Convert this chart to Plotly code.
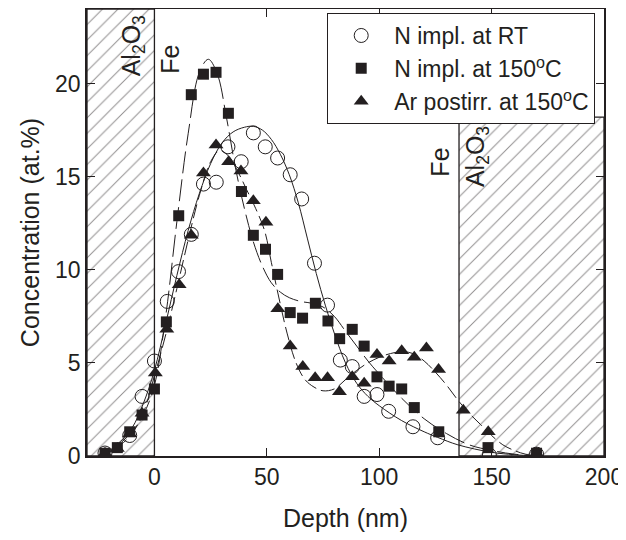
import plotly.graph_objects as go

# ---- measured data points ----
rt_x = [-22, -11, -5.5, 0, 5.7, 10.7, 16.4, 21.8, 27.5, 32.7, 38.6, 44, 49.3, 54.8, 60.4, 65.5, 71.2, 77, 82.7, 88, 93.3, 99, 104.2, 115, 126, 149, 170]
rt_y = [0.16, 1.1, 3.2, 5.1, 8.3, 9.9, 11.9, 14.6, 14.7, 16.6, 15.8, 17.35, 16.6, 16.0, 15.1, 13.8, 10.35, 8.1, 5.15, 4.8, 3.2, 3.3, 2.4, 1.57, 0.98, 0.05, 0.1]

hot_x = [-22, -16.5, -11, -5.5, 0, 5.3, 10.8, 16.4, 21.8, 27.4, 32.9, 38.7, 44, 49.4, 54.8, 60.4, 65.9, 71.6, 77.2, 82.4, 88, 93.3, 99, 104.4, 110, 115.6, 126.5, 148.4, 170]
hot_y = [0.15, 0.45, 1.3, 2.2, 3.6, 7.2, 12.9, 19.4, 20.5, 20.6, 18.4, 14.2, 11.85, 11.1, 9.75, 7.7, 7.4, 8.2, 7.25, 6.3, 6.8, 5.9, 4.25, 3.75, 3.6, 2.6, 1.3, 0.45, 0.15]

ar_x = [-22, -16.5, -11, -5.5, 0.4, 5.5, 11, 16.4, 21.8, 27.4, 33, 38.5, 44, 49.6, 54.9, 60.4, 66, 71.5, 77, 82.3, 88, 93.3, 99, 104.4, 110, 115.6, 121, 126.4, 137.4, 148.5, 170]
ar_y = [0.15, 0.4, 1.2, 2.3, 4.45, 6.8, 9.2, 11.85, 15.2, 16.7, 15.8, 15.3, 13.7, 12.55, 7.9, 5.9, 4.8, 4.2, 4.2, 3.45, 4.25, 3.9, 5.45, 5.1, 5.65, 5.3, 5.8, 4.65, 2.45, 1.3, 0.15]

# ---- fitted curves ----
rt_fit_x = [-25, -20, -15, -10, -5, 0, 5, 10, 15, 20, 25, 30, 35, 40, 44, 48, 52, 56, 60, 64, 68, 72, 76, 80, 85, 90, 95, 100, 110, 120, 126, 135, 150, 160, 170]
rt_fit_y = [0, 0.3, 0.8, 1.5, 2.8, 4.6, 7.1, 9.7, 12.1, 14.1, 15.7, 16.8, 17.4, 17.65, 17.7, 17.5, 17.0, 16.2, 15.1, 13.6, 11.7, 9.8, 8.1, 6.6, 5.0, 3.9, 3.2, 2.7, 1.9, 1.3, 1.0, 0.6, 0.2, 0.07, 0.0]

hot_fit_x = [-25, -20, -15, -10, -5, 0, 5, 10, 15, 20, 24, 28, 32, 36, 40, 44, 48, 52, 56, 60, 65, 70, 75, 80, 85, 90, 95, 100, 110, 120, 130, 140, 150, 160, 170]
hot_fit_y = [0, 0.25, 0.7, 1.3, 2.2, 3.8, 7.5, 12.6, 17.3, 20.6, 21.3, 20.5, 18.2, 15.5, 13.3, 11.5, 10.2, 9.3, 8.8, 8.5, 8.3, 8.2, 8.0, 7.5, 6.7, 5.9, 5.1, 4.4, 3.1, 2.0, 1.2, 0.6, 0.3, 0.1, 0.02]

ar_fit_x = [-25, -20, -15, -10, -5, 0, 5, 10, 15, 20, 25, 29, 33, 37, 41, 45, 49, 52, 55, 59, 63, 67, 71, 75, 80, 85, 90, 95, 100, 105, 110, 115, 120, 125, 130, 135, 140, 145, 150, 155, 160, 165, 170]
ar_fit_y = [0, 0.2, 0.6, 1.2, 2.3, 4.3, 6.5, 9.0, 11.6, 14.0, 15.8, 16.4, 16.1, 15.3, 14.3, 13.3, 12.1, 10.4, 8.7, 6.6, 5.0, 4.1, 3.7, 3.5, 3.6, 4.1, 4.6, 5.0, 5.3, 5.5, 5.6, 5.5, 5.1, 4.5, 3.8, 3.0, 2.3, 1.7, 1.1, 0.6, 0.3, 0.1, 0.02]

# ---- Al2O3 layers (depth limits, top concentration) ----
layer_left_x = [-30, 0]
layer_right_x = [135.5, 200]
layer_left_top = 24
layer_right_top = 18.2

x_range = [-30, 200]
y_range = [0, 24]
x_ticks = [0, 50, 100, 150, 200]
y_ticks = [0, 5, 10, 15, 20]

names = ["N impl. at RT", "N impl. at 150<sup>o</sup>C", "Ar postirr. at 150<sup>o</sup>C"]

ink = "#231f20"
fig = go.Figure()

pattern = dict(shape="/", fgcolor=ink, bgcolor="white", size=11, solidity=0.09)
for lx, top in [(layer_left_x, layer_left_top), (layer_right_x, layer_right_top)]:
    fig.add_trace(go.Scatter(
        x=[lx[0], lx[1], lx[1], lx[0], lx[0]], y=[0, 0, top, top, 0],
        mode="lines", fill="toself", fillpattern=pattern, fillcolor="white",
        line=dict(color=ink, width=1.3), showlegend=False, hoverinfo="skip"))

fig.add_trace(go.Scatter(x=rt_fit_x, y=rt_fit_y, mode="lines", line=dict(color=ink, width=1, shape="spline"), showlegend=False))
fig.add_trace(go.Scatter(x=hot_fit_x, y=hot_fit_y, mode="lines", line=dict(color=ink, width=1, shape="spline", dash="22px,6px"), showlegend=False))
fig.add_trace(go.Scatter(x=ar_fit_x, y=ar_fit_y, mode="lines", line=dict(color=ink, width=1, shape="spline", dash="14px,5px"), showlegend=False))

fig.add_trace(go.Scatter(x=rt_x, y=rt_y, mode="markers", name=names[0],
                         marker=dict(symbol="circle-open", size=14, color=ink, line=dict(width=1, color=ink))))
fig.add_trace(go.Scatter(x=hot_x, y=hot_y, mode="markers", name=names[1],
                         marker=dict(symbol="square", size=11, color=ink)))
fig.add_trace(go.Scatter(x=ar_x, y=ar_y, mode="markers", name=names[2],
                         marker=dict(symbol="triangle-up", size=13, color=ink)))

font = "Liberation Sans, Arial, sans-serif"
axis_common = dict(showgrid=False, zeroline=False, showline=True, linecolor=ink, linewidth=1.5,
                   mirror="ticks", ticks="inside", ticklen=8, tickcolor=ink, tickwidth=1,
                   tickfont=dict(size=23, color=ink, family=font))
fig.update_xaxes(range=x_range, tickvals=x_ticks, title=dict(text="Depth (nm)", font=dict(size=25, color=ink, family=font), standoff=20), **axis_common)
fig.update_yaxes(range=y_range, tickvals=y_ticks, title=dict(text="Concentration (at.%)", font=dict(size=25, color=ink, family=font), standoff=8), **axis_common)

ann_font = dict(size=25, color=ink, family=font)
fig.add_annotation(x=-9.5, y=22.0, xref="x", yref="y", text="Al<sub>2</sub>O<sub>3</sub>", textangle=-90, showarrow=False, font=ann_font)
fig.add_annotation(x=7.1, y=21.3, xref="x", yref="y", text="Fe", textangle=-90, showarrow=False, font=ann_font)
fig.add_annotation(x=127, y=15.8, xref="x", yref="y", text="Fe", textangle=-90, showarrow=False, font=ann_font)
fig.add_annotation(x=143.5, y=16.05, xref="x", yref="y", text="Al<sub>2</sub>O<sub>3</sub>", textangle=-90, showarrow=False, font=ann_font)

fig.update_layout(
    width=626, height=540,
    margin=dict(l=79, r=30, t=1, b=92, autoexpand=False),
    paper_bgcolor="white", plot_bgcolor="white",
    font=dict(family=font, color=ink),
    legend=dict(x=0.983, y=0.991, xanchor="right", yanchor="top",
                bordercolor=ink, borderwidth=1, bgcolor="white",
                font=dict(size=23, color=ink, family=font), itemwidth=56),
)

fig.write_html("out.html")
